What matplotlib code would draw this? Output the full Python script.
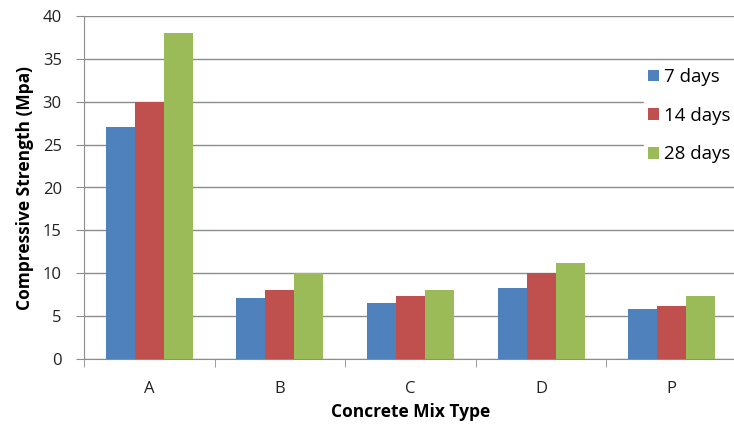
import numpy as np
import matplotlib.pyplot as plt

plt.rcParams['font.family'] = ['Open Sans', 'DejaVu Sans']

mixes = ['A', 'B', 'C', 'D', 'P']
days7 = [27.0, 7.1, 6.5, 8.3, 5.8]
days14 = [30.0, 8.0, 7.3, 10.0, 6.2]
days28 = [38.0, 10.0, 8.0, 11.2, 7.4]
series = [('7 days', days7, '#4F81BD'),
          ('14 days', days14, '#C0504D'),
          ('28 days', days28, '#9BBB59')]

fig = plt.figure(figsize=(7.34, 4.25), dpi=100)
# plot area runs slightly past the right edge of the figure
ax = fig.add_axes([84 / 734, 1 - 359 / 425, 653 / 734, 343 / 425])

x = np.arange(len(mixes))
w = 0.222
for i, (name, vals, col) in enumerate(series):
    ax.bar(x + (i - 1) * w, vals, w, color=col, label=name, zorder=3)

grid_col = '#8c8c8c'
ax.set_ylim(0, 40)
ax.set_yticks(np.arange(0, 41, 5))
ax.set_xlim(-0.5, len(mixes) - 0.5)
ax.set_xticks(x)
ax.set_xticklabels(mixes)
ax.set_xticks(np.arange(-0.5, len(mixes)), minor=True)
ax.tick_params(axis='x', which='major', length=0, pad=16, labelsize=12, colors='#222222')
ax.tick_params(axis='x', which='minor', length=6, color=grid_col)
ax.tick_params(axis='y', length=6, pad=10, color=grid_col, labelsize=12, labelcolor='#222222')
ax.yaxis.grid(True, color=grid_col, linewidth=1, zorder=0)

for side in ['top', 'right']:
    ax.spines[side].set_visible(False)
for side in ['left', 'bottom']:
    ax.spines[side].set_color(grid_col)

ax.set_ylabel('Compressive Strength (Mpa)', fontsize=12.5, fontweight='bold', labelpad=6)
ax.set_xlabel('Concrete Mix Type', fontsize=12.5, fontweight='bold', labelpad=4)

leg = ax.legend(loc='upper left', bbox_to_anchor=(635 / 734, 1 - 55 / 425),
                bbox_transform=fig.transFigure, frameon=True, fancybox=False,
                edgecolor='white', facecolor='white', framealpha=1,
                fontsize=13.5, handlelength=0.6, handleheight=0.6,
                handletextpad=0.25, labelspacing=1.1, borderpad=0.2)
leg.set_zorder(5)

fig.savefig('out.png', dpi=100)
